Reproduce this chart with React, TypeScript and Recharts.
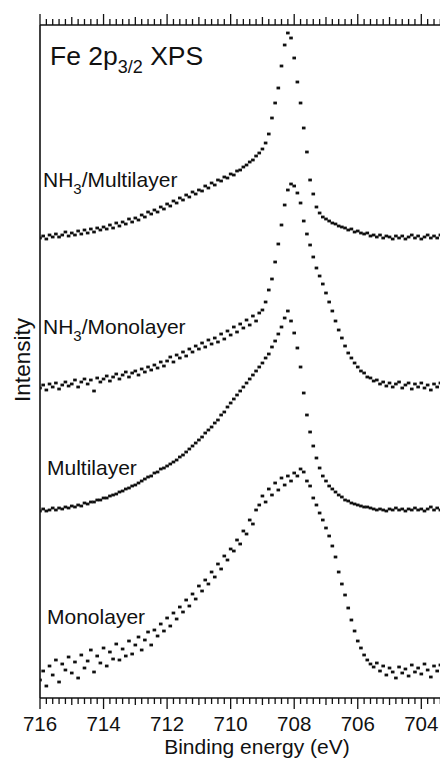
import React from "react";
import { ScatterChart, Scatter, XAxis, YAxis } from "recharts";

// Fe 2p3/2 XPS spectra, intensity in arbitrary units, scan step 0.1 eV from 716 eV down
const NH3_MULTILAYER = [
  460, 462, 459, 463, 461, 464, 461, 463, 466, 462, 465, 463, 467, 464, 468, 465, 469, 466, 470, 468,
  471, 469, 473, 470, 475, 472, 476, 474, 479, 476, 480, 478, 483, 481, 486, 484, 488, 486, 491, 489,
  494, 492, 497, 495, 500, 498, 503, 501, 506, 504, 508, 507, 512, 510, 515, 513, 518, 517, 521, 520,
  524, 523, 527, 528, 531, 533, 536, 538, 542, 545, 549, 555, 564, 580, 595, 610, 632, 653, 665, 660,
  640, 616, 595, 570, 546, 518, 504, 491, 485, 481, 479, 477, 475, 474, 472, 471, 470, 468, 469, 466,
  467, 465, 464, 465, 462, 463, 461, 463, 460, 462, 461, 459, 462, 460, 462, 459, 461, 463, 460, 462,
  459, 461, 463, 460, 462, 460, 463, 461, 462,
];

const NH3_MONOLAYER = [
  310, 313, 308, 314, 311, 315, 309, 313, 316, 312, 314, 318, 311, 316, 319, 314, 318, 307, 320, 316,
  319, 322, 317, 321, 324, 319, 323, 326, 321, 325, 327, 323, 329, 326, 331, 328, 333, 330, 336, 332,
  337, 341, 336, 343, 340, 346, 342, 349, 346, 352, 349, 355, 351, 358, 354, 360, 356, 364, 359, 367,
  363, 371, 366, 374, 370, 378, 373, 382, 377, 385, 388, 396, 408, 419, 436, 454, 473, 493, 508, 514,
  512, 505, 495, 477, 464, 453, 441, 430, 422, 414, 405, 396, 387, 377, 368, 360, 352, 345, 340, 335,
  331, 327, 325, 321, 320, 317, 318, 314, 316, 312, 315, 311, 314, 316, 310, 313, 315, 309, 314, 311,
  315, 310, 313, 308, 314, 311, 315, 309, 312,
];

const MULTILAYER = [
  187, 189, 187, 188, 190, 188, 190, 189, 191, 190, 192, 191, 193, 192, 195, 194, 196, 196, 198, 198,
  200, 200, 202, 203, 204, 206, 207, 209, 210, 212, 213, 215, 217, 219, 221, 222, 225, 226, 229, 230,
  232, 234, 236, 238, 241, 243, 246, 249, 252, 255, 258, 261, 265, 268, 271, 275, 278, 283, 286, 291,
  295, 299, 303, 307, 311, 315, 319, 323, 327, 331, 335, 340, 344, 351, 357, 364, 371, 380, 387, 377,
  365, 350, 331, 305, 283, 266, 252, 240, 230, 222, 217, 212, 209, 206, 203, 201, 198, 197, 195, 194,
  193, 192, 191, 191, 190, 189, 188, 189, 188, 187, 189, 188, 190, 188, 189, 187, 189, 188, 190, 188,
  189, 187, 189, 191, 188, 190, 188, 189, 190,
];

const MONOLAYER = [
  18, 27, 12, 32, 23, 38, 16, 34, 28, 41, 25, 36, 20, 43, 30, 37, 48, 26, 42, 35,
  50, 32, 46, 39, 54, 38, 49, 42, 57, 44, 53, 61, 48, 58, 66, 53, 68, 62, 74, 67,
  80, 72, 85, 79, 91, 86, 98, 92, 104, 99, 112, 107, 118, 114, 126, 121, 134, 129, 142, 138,
  149, 147, 158, 154, 167, 164, 178, 174, 188, 193, 202, 196, 209, 203, 215, 208, 220, 213, 222, 217,
  225, 222, 229, 226, 217, 212, 200, 193, 185, 178, 170, 162, 152, 141, 126, 114, 103, 90, 78, 67,
  57, 50, 43, 38, 34, 31, 35, 27, 32, 23, 30, 26, 20, 31, 25, 29, 22, 33, 26, 30,
  24, 34, 28, 21, 32, 27, 33, 25, 30,
];

const START_EV = 716;
const STEP_EV = 0.1;
const ENERGY = NH3_MULTILAYER.map((_, i) => Math.round((START_EV - STEP_EV * i) * 10) / 10);

const TICK_LABELS = [716, 714, 712, 710, 708, 706, 704];
const MINOR_TICKS = Array.from({ length: 65 }, (_, i) => Math.round((703.2 + 0.2 * i) * 10) / 10);

const SERIES = [
  { name: "NH3/Multilayer", values: NH3_MULTILAYER },
  { name: "NH3/Monolayer", values: NH3_MONOLAYER },
  { name: "Multilayer", values: MULTILAYER },
  { name: "Monolayer", values: MONOLAYER },
];

const FONT = "'Liberation Sans', Arial, Helvetica, sans-serif";
const INK = "#111";

function tickLen(v: number, major: number, mid: number, minor: number) {
  const r = Math.round(v);
  if (Math.abs(v - r) > 0.01) return minor;
  return r % 2 === 0 ? major : mid;
}

function BottomTick(props: any) {
  const { x, y, payload } = props;
  const v = payload.value as number;
  const len = tickLen(v, 11, 7, 6);
  const showLabel = TICK_LABELS.some((t) => Math.abs(t - v) < 0.01);
  return (
    <g>
      <line x1={x} x2={x} y1={y} y2={y + len} stroke={INK} strokeWidth={1.3} />
      {showLabel && (
        <text x={x} y={y + 33} textAnchor="middle" fontSize={20.5} fontFamily={FONT} fill={INK}>
          {Math.round(v)}
        </text>
      )}
    </g>
  );
}

function TopTick(props: any) {
  const { x, y, payload } = props;
  const len = tickLen(payload.value as number, 11, 8, 6);
  return <line x1={x} x2={x} y1={y} y2={y - len} stroke={INK} strokeWidth={1.3} />;
}

const Dot = (props: any) => {
  const { cx, cy } = props;
  if (cx == null || cy == null) return <g />;
  return <rect x={cx - 1.8} y={cy - 1.4} width={3.6} height={2.8} fill={INK} />;
};

export default function App() {
  const W = 440;
  const H = 750;
  return (
    <div style={{ position: "relative", width: W, height: H }}>
      <ScatterChart width={W} height={H} margin={{ top: 0, right: 0, bottom: 0, left: 0 }}>
        <XAxis
          xAxisId="bottom"
          type="number"
          dataKey="e"
          domain={[703.16, 716]}
          reversed
          allowDataOverflow
          ticks={MINOR_TICKS}
          interval={0}
          height={60}
          tickSize={0}
          tickMargin={0}
          tickLine={false}
          tick={(p: any) => <BottomTick {...p} />}
          axisLine={{ stroke: INK, strokeWidth: 1.6 }}
        />
        <XAxis
          xAxisId="top"
          orientation="top"
          type="number"
          dataKey="e"
          domain={[703.16, 716]}
          reversed
          allowDataOverflow
          ticks={MINOR_TICKS}
          interval={0}
          height={17}
          tickSize={0}
          tickMargin={0}
          tickLine={false}
          tick={(p: any) => <TopTick {...p} />}
          axisLine={{ stroke: INK, strokeWidth: 1.6 }}
        />
        <YAxis
          type="number"
          dataKey="v"
          domain={[0, 673]}
          allowDataOverflow
          width={32}
          tick={false}
          tickLine={false}
          axisLine={{ stroke: INK, strokeWidth: 1.6 }}
        />
        {SERIES.map((s) => (
          <Scatter
            key={s.name}
            name={s.name}
            xAxisId="bottom"
            data={s.values.map((v, i) => ({ e: ENERGY[i], v }))}
            shape={Dot}
            isAnimationActive={false}
          />
        ))}
      </ScatterChart>
      <svg
        width={W}
        height={H}
        style={{ position: "absolute", left: 0, top: 0, pointerEvents: "none" }}
        fontFamily={FONT}
        fill={INK}
      >
        <text x={42} y={57} fontSize={26.5}>
          <tspan>Fe 2p</tspan>
          <tspan dy={8} fontSize={18}>3/2</tspan>
          <tspan dy={-8}> XPS</tspan>
        </text>
        <text x={35} y={179} fontSize={21}>
          <tspan>NH</tspan>
          <tspan dy={7} fontSize={15}>3</tspan>
          <tspan dy={-7}>/Multilayer</tspan>
        </text>
        <text x={35} y={326} fontSize={21}>
          <tspan>NH</tspan>
          <tspan dy={7} fontSize={15}>3</tspan>
          <tspan dy={-7}>/Monolayer</tspan>
        </text>
        <text x={39} y={467} fontSize={21}>Multilayer</text>
        <text x={39} y={616} fontSize={21}>Monolayer</text>
        <text x={22} y={352} fontSize={22.5} textAnchor="middle" transform="rotate(-90, 22, 352)">
          Intensity
        </text>
        <text x={249} y={746} fontSize={21} textAnchor="middle">
          Binding energy (eV)
        </text>
      </svg>
    </div>
  );
}
